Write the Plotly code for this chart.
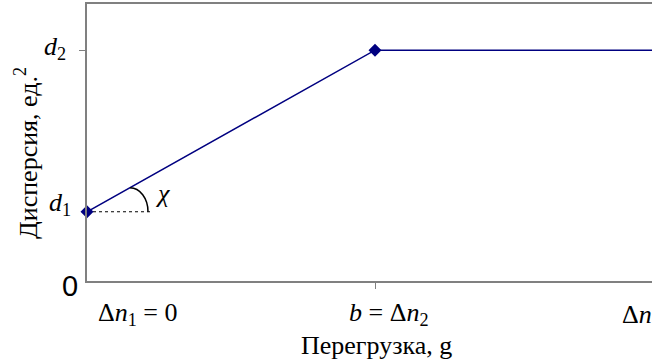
import plotly.graph_objects as go

# Data
x_load = [0, 1, 2]            # Δn1 = 0, b = Δn2, Δn
dispersion = [0.3, 1.0, 1.0]  # d1, d2, d2
marker_x = [0, 1]
marker_y = [0.3, 1.0]
y_tick_vals = [0, 0.3, 1.0]
y_tick_text = ["0", "<i>d</i><sub>1</sub>", "<i>d</i><sub>2</sub>"]
x_tick_vals = [0, 1, 2]
x_tick_text = ["Δ<i>n</i><sub>1</sub> = 0", "<i>b</i> = Δ<i>n</i><sub>2</sub>", "Δ<i>n</i>"]

NAVY = "#000080"
GREY = "#808080"
SERIF = "Liberation Serif"
FS = 26

x_max = 565 / 288
fig = go.Figure()

d1 = dispersion[0]
fig.add_trace(go.Scatter(x=[0, 0.219], y=[d1, d1], mode="lines",
                         line=dict(color="black", width=1, dash="dot"),
                         hoverinfo="skip", showlegend=False))

fig.add_trace(go.Scatter(x=x_load, y=dispersion, mode="lines",
                         line=dict(color=NAVY, width=1.5), showlegend=False))
fig.add_trace(go.Scatter(x=marker_x, y=marker_y, mode="markers", cliponaxis=False,
                         marker=dict(symbol="diamond", size=10, color=NAVY),
                         showlegend=False))

# arc for angle chi (quarter ellipse), in data units
px = 1 / 288
py = 1 / 231
ax0, ay0 = 43 * px, d1 + 24 * py
ax1, ay1 = 61 * px, d1
k = 0.552
path = (f"M {ax0},{ay0} C {ax0 + k*18*px},{ay0} {ax1},{ay1 + k*24*py} {ax1},{ay1}")
fig.add_shape(type="path", path=path, xref="x", yref="y",
              line=dict(color="black", width=1.5))

fig.add_annotation(x=75 * px, y=d1 + 18 * py, xref="x", yref="y",
                   text="<i>χ</i>", showarrow=False,
                   font=dict(family=SERIF, size=FS, color="black"))

# y tick labels
fig.add_annotation(x=0, y=y_tick_vals[0], xref="paper", yref="y", xanchor="right",
                   yanchor="middle", xshift=-7, yshift=-5, text=y_tick_text[0],
                   showarrow=False, font=dict(family="Liberation Sans", size=29, color="black"))
fig.add_annotation(x=0, y=y_tick_vals[1], xref="paper", yref="y", xanchor="right",
                   yanchor="middle", xshift=-14, yshift=8, text=y_tick_text[1],
                   showarrow=False, font=dict(family=SERIF, size=FS, color="black"))
fig.add_annotation(x=0, y=y_tick_vals[2], xref="paper", yref="y", xanchor="right",
                   yanchor="middle", xshift=-19, yshift=2, text=y_tick_text[2],
                   showarrow=False, font=dict(family=SERIF, size=FS, color="black"))

# x tick labels
fig.add_annotation(x=x_tick_vals[0], y=0, xref="x", yref="paper", xanchor="left",
                   yanchor="middle", xshift=9, yshift=-33, text=x_tick_text[0],
                   showarrow=False, font=dict(family=SERIF, size=FS, color="black"))
fig.add_annotation(x=x_tick_vals[1], y=0, xref="x", yref="paper", xanchor="center",
                   yanchor="middle", xshift=13, yshift=-33, text=x_tick_text[1],
                   showarrow=False, font=dict(family=SERIF, size=FS, color="black"))
fig.add_annotation(x=1, y=0, xref="paper", yref="paper", xanchor="left",
                   yanchor="middle", xshift=-32, yshift=-33, text=x_tick_text[2],
                   showarrow=False, font=dict(family=SERIF, size=FS, color="black"))

# axis titles
fig.add_annotation(x=(376 - 87) / 565, y=0, xref="paper", yref="paper",
                   xanchor="center", yanchor="middle", yshift=-64,
                   text="Перегрузка, g", showarrow=False,
                   font=dict(family=SERIF, size=FS, color="black"))
fig.add_annotation(x=0, y=(281 - 153) / 277, xref="paper", yref="paper",
                   xanchor="center", yanchor="middle", xshift=-61, textangle=-90,
                   text="Дисперсия, ед.<sup>2</sup>", showarrow=False,
                   font=dict(family=SERIF, size=FS, color="black"))

fig.update_xaxes(range=[0, x_max], showgrid=False, zeroline=False,
                 showline=True, linecolor=GREY, linewidth=1.5, mirror=True,
                 tickvals=[x_tick_vals[1]], ticktext=[""], ticks="outside",
                 ticklen=6, tickcolor=GREY, tickwidth=1)
fig.update_yaxes(range=[0, 1.2], showgrid=False, zeroline=False,
                 showline=True, linecolor=GREY, linewidth=1.5, mirror=False,
                 tickvals=[y_tick_vals[2]], ticktext=[""], ticks="outside",
                 ticklen=6, tickcolor=GREY, tickwidth=1)

fig.update_layout(width=652, height=360, margin=dict(l=87, r=0, t=4, b=79),
                  plot_bgcolor="white", paper_bgcolor="white", showlegend=False)

fig.write_html("out.html", config={"displayModeBar": False},
               post_script="document.body.style.margin='0';document.body.style.overflow='hidden';")
